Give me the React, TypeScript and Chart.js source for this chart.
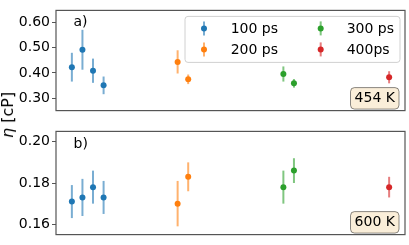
import React, { useEffect, useRef } from "react";
import { Chart, registerables } from "chart.js";

Chart.register(...registerables);

const FONT = "'DejaVu Sans', sans-serif";

const seriesLabels = ["100 ps", "200 ps", "300 ps", "400ps"];
const seriesColors = ["#1f77b4", "#ff7f0e", "#2ca02c", "#d62728"];
const errColors = [
  "rgba(31,119,180,0.6)",
  "rgba(255,127,14,0.6)",
  "rgba(44,160,44,0.6)",
  "rgba(214,39,40,0.6)",
];

const x100 = [1, 2, 3, 4];
const x200 = [11, 12];
const x300 = [21, 22];
const x400 = [31];

// 454 K panel
const v100_454 = [0.423, 0.492, 0.409, 0.351];
const e100_454 = [0.057, 0.079, 0.048, 0.035];
const v200_454 = [0.444, 0.375];
const e200_454 = [0.046, 0.019];
const v300_454 = [0.396, 0.359];
const e300_454 = [0.03, 0.017];
const v400_454 = [0.383];
const e400_454 = [0.024];

// 600 K panel
const v100_600 = [0.171, 0.173, 0.178, 0.173];
const e100_600 = [0.008, 0.009, 0.008, 0.008];
const v200_600 = [0.17, 0.183];
const e200_600 = [0.011, 0.007];
const v300_600 = [0.178, 0.186];
const e300_600 = [0.008, 0.006];
const v400_600 = [0.178];
const e400_600 = [0.005];

const ticks454 = [0.3, 0.4, 0.5, 0.6];
const ticks600 = [0.16, 0.18, 0.2];

const xGroups = [x100, x200, x300, x400];

function buildDatasets(vals: number[][], errs: number[][]) {
  return vals.map((v, i) => ({
    label: seriesLabels[i],
    data: v.map((y, j) => ({ x: xGroups[i][j], y, e: errs[i][j] })),
    backgroundColor: seriesColors[i],
    borderColor: seriesColors[i],
    pointRadius: 3,
    pointBorderWidth: 0,
    showLine: false,
    errColor: errColors[i],
  }));
}

const errorBarPlugin = {
  id: "errorBars",
  beforeDatasetsDraw(chart: any) {
    const ctx = chart.ctx;
    const xs = chart.scales.x;
    const ys = chart.scales.y;
    chart.data.datasets.forEach((ds: any) => {
      ctx.save();
      ctx.strokeStyle = ds.errColor;
      ctx.lineWidth = 2;
      ds.data.forEach((p: any) => {
        const px = xs.getPixelForValue(p.x);
        ctx.beginPath();
        ctx.moveTo(px, ys.getPixelForValue(p.y - p.e));
        ctx.lineTo(px, ys.getPixelForValue(p.y + p.e));
        ctx.stroke();
      });
      ctx.restore();
    });
  },
};

function roundRect(ctx: CanvasRenderingContext2D, x: number, y: number, w: number, h: number, r: number) {
  ctx.beginPath();
  ctx.moveTo(x + r, y);
  ctx.lineTo(x + w - r, y);
  ctx.quadraticCurveTo(x + w, y, x + w, y + r);
  ctx.lineTo(x + w, y + h - r);
  ctx.quadraticCurveTo(x + w, y + h, x + w - r, y + h);
  ctx.lineTo(x + r, y + h);
  ctx.quadraticCurveTo(x, y + h, x, y + h - r);
  ctx.lineTo(x, y + r);
  ctx.quadraticCurveTo(x, y, x + r, y);
  ctx.closePath();
}

const decoPlugin = {
  id: "deco",
  afterDraw(chart: any, _args: any, opts: any) {
    const ctx: CanvasRenderingContext2D = chart.ctx;
    const a = chart.chartArea;
    ctx.save();
    // frame
    ctx.strokeStyle = "#555";
    ctx.lineWidth = 1.2;
    ctx.strokeRect(a.left, a.top, a.right - a.left, a.bottom - a.top);

    // panel label
    ctx.fillStyle = "#000";
    ctx.font = `14px ${FONT}`;
    ctx.textAlign = "left";
    ctx.textBaseline = "alphabetic";
    ctx.fillText(opts.label, a.left + 17.5, a.top + opts.labelDy);

    // temperature box
    const bw = 48.5;
    const bh = 21.5;
    const bx = a.right - 54.5;
    const by = a.bottom - 23;
    roundRect(ctx, bx, by, bw, bh, 4);
    ctx.fillStyle = "#FAEED9";
    ctx.fill();
    ctx.strokeStyle = "rgba(0,0,0,0.45)";
    ctx.lineWidth = 1;
    ctx.stroke();
    ctx.fillStyle = "#000";
    ctx.textAlign = "center";
    ctx.textBaseline = "middle";
    ctx.fillText(opts.temp, bx + bw / 2, by + bh / 2 + 0.5);

    // legend
    if (opts.legend) {
      const lx = 185;
      const ly = a.top + 6;
      roundRect(ctx, lx, ly, 215, 46, 3);
      ctx.fillStyle = "rgba(255,255,255,0.8)";
      ctx.fill();
      ctx.strokeStyle = "#d0d0d0";
      ctx.lineWidth = 1;
      ctx.stroke();
      const mX = [204, 320.7];
      const tX = [230.7, 346.7];
      const rY = [ly + 12, ly + 33];
      seriesLabels.forEach((lab, i) => {
        const col = Math.floor(i / 2);
        const row = i % 2;
        const mx = mX[col];
        const my = rY[row];
        ctx.strokeStyle = errColors[i];
        ctx.lineWidth = 2;
        ctx.beginPath();
        ctx.moveTo(mx, my - 7);
        ctx.lineTo(mx, my + 7);
        ctx.stroke();
        ctx.fillStyle = seriesColors[i];
        ctx.beginPath();
        ctx.arc(mx, my, 3, 0, Math.PI * 2);
        ctx.fill();
        ctx.fillStyle = "#000";
        ctx.textAlign = "left";
        ctx.textBaseline = "middle";
        ctx.font = `14px ${FONT}`;
        ctx.fillText(lab, tX[col], my + 0.5);
      });
    }
    ctx.restore();
  },
};

function makeConfig(
  vals: number[][],
  errs: number[][],
  yMin: number,
  yMax: number,
  tickVals: number[],
  padding: any,
  deco: any
): any {
  return {
    type: "scatter",
    data: { datasets: buildDatasets(vals, errs) },
    options: {
      animation: false,
      responsive: false,
      layout: { padding },
      plugins: {
        legend: { display: false },
        tooltip: { enabled: false },
        deco,
      },
      scales: {
        x: { type: "linear", min: -0.5, max: 32.5, display: false },
        y: {
          min: yMin,
          max: yMax,
          afterFit: (s: any) => {
            s.width = 56;
          },
          afterBuildTicks: (s: any) => {
            s.ticks = tickVals.map((v) => ({ value: v }));
          },
          ticks: {
            callback: (v: any) => Number(v).toFixed(2),
            color: "#000",
            font: { family: FONT, size: 14 },
            padding: 2,
          },
          grid: {
            drawOnChartArea: false,
            drawTicks: true,
            tickLength: 4,
            color: "#555",
          },
          border: { display: false },
        },
      },
    },
    plugins: [errorBarPlugin, decoPlugin],
  };
}

function Panel(props: { config: any; top: number; height: number }) {
  const ref = useRef<HTMLCanvasElement>(null);
  useEffect(() => {
    const c = new Chart(ref.current as HTMLCanvasElement, props.config);
    return () => c.destroy();
  }, []);
  return (
    <canvas
      ref={ref}
      width={409}
      height={props.height}
      style={{ position: "absolute", left: 0, top: props.top, width: 409, height: props.height }}
    />
  );
}

export default function App() {
  const top = makeConfig(
    [v100_454, v200_454, v300_454, v400_454],
    [e100_454, e200_454, e300_454, e400_454],
    0.251,
    0.648,
    ticks454,
    { left: 0, top: 2, right: 4, bottom: 4 },
    { label: "a)", labelDy: 15.5, temp: "454 K", legend: true }
  );
  const bottom = makeConfig(
    [v100_600, v200_600, v300_600, v400_600],
    [e100_600, e200_600, e300_600, e400_600],
    0.155,
    0.205,
    ticks600,
    { left: 0, top: 4, right: 4, bottom: 4 },
    { label: "b)", labelDy: 16.5, temp: "600 K", legend: false }
  );
  return (
    <div style={{ position: "fixed", left: 0, top: 0, width: 409, height: 245, background: "#fff" }}>
      <Panel config={top} top={0} height={121} />
      <Panel config={bottom} top={121} height={124} />
      <div
        style={{
          position: "absolute",
          left: 8,
          top: 115,
          transform: "translate(-50%, -50%) rotate(-90deg)",
          fontFamily: FONT,
          fontSize: 16,
          whiteSpace: "nowrap",
          color: "#000",
          lineHeight: 1,
        }}
      >
        <i>η</i> [cP]
      </div>
    </div>
  );
}
